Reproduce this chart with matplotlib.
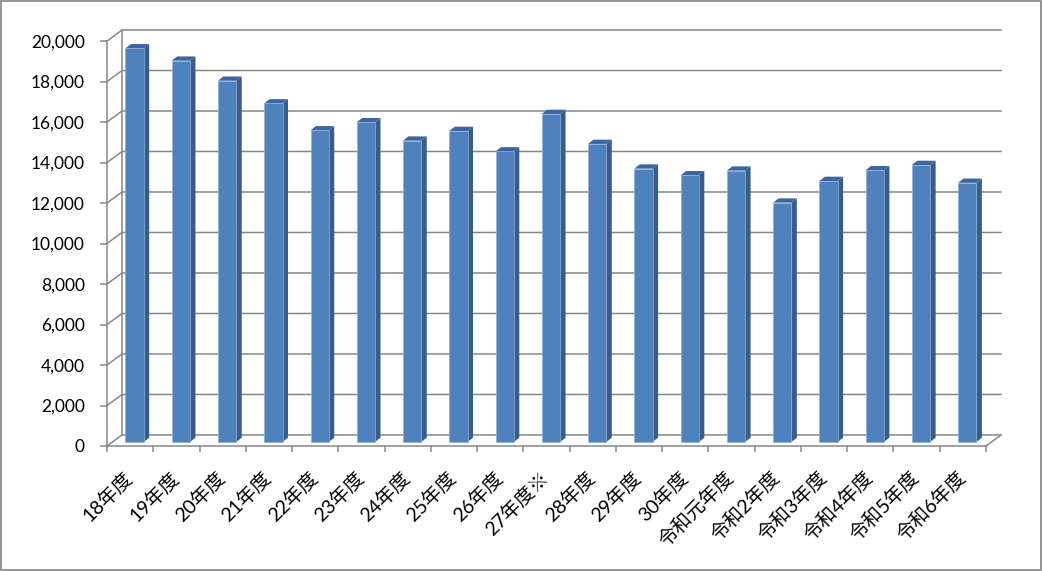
import matplotlib
matplotlib.use('Agg')
import matplotlib.pyplot as plt
from matplotlib.patches import Polygon, Rectangle
import numpy as np

plt.rcParams['font.family'] = ['Lato', 'Noto Sans CJK JP', 'DejaVu Sans']

categories = ['18年度', '19年度', '20年度', '21年度', '22年度', '23年度', '24年度',
              '25年度', '26年度', '27年度※', '28年度', '29年度', '30年度',
              '令和元年度', '令和2年度', '令和3年度', '令和4年度', '令和5年度', '令和6年度']
values = [19440, 18830, 17840, 16720, 15390, 15790, 14880, 15360, 14350, 16200,
          14720, 13500, 13170, 13400, 11820, 12890, 13420, 13680, 12800]
yticks = list(range(0, 20001, 2000))
ytick_labels = [f'{v:,}' for v in yticks]

W, H = 1042, 571
fig = plt.figure(figsize=(W / 100, H / 100), dpi=100)
fig.patch.set_facecolor('white')
fig.add_artist(Rectangle((0.8 / W, 0.8 / H), 1 - 1.6 / W, 1 - 1.6 / H,
                         transform=fig.transFigure, fill=False,
                         edgecolor='#8a8a8a', linewidth=1.3))

left_px, right_px, bottom_px, top_px = 107, 1001, 446, 30
ax = fig.add_axes([left_px / W, 1 - bottom_px / H,
                   (right_px - left_px) / W, (bottom_px - top_px) / H])

n = len(categories)
ymax = 20000
dx, dy = 0.325, 545          # depth of the 3D floor
ax.set_xlim(-0.5, n - 0.5 + dx)
ax.set_ylim(0, ymax + dy)
ax.set_facecolor('none')

grid_c = '#878787'
glw = 1.1
for v in yticks:
    ax.plot([-0.5, -0.5 + dx, n - 0.5 + dx], [v, v + dy, v + dy],
            color=grid_c, lw=glw, clip_on=False, zorder=1)
ax.plot([-0.5 + dx, -0.5 + dx], [dy, ymax + dy], color=grid_c, lw=glw, clip_on=False, zorder=1)
ax.plot([n - 0.5, n - 0.5 + dx], [0, dy], color=grid_c, lw=glw, clip_on=False, zorder=1)

for s in ['top', 'right']:
    ax.spines[s].set_visible(False)
ax.spines['left'].set_bounds(0, ymax)
for s in ['left', 'bottom']:
    ax.spines[s].set_color(grid_c)
    ax.spines[s].set_linewidth(glw)
ax.spines['bottom'].set_bounds(-0.5, n - 0.5)

ax.set_yticks(yticks, ytick_labels)
ax.tick_params(axis='y', length=5, width=glw, color=grid_c, pad=11, labelsize=12.5,
               labelcolor='black')
ax.set_xticks(np.arange(-0.5, n, 1.0))
ax.set_xticklabels([])
ax.tick_params(axis='x', length=4.5, width=glw, color=grid_c)

# 3D bars
front_c = '#4f81bd'
side_c = '#385d8a'
top_c = '#3c66a0'
w = 0.396
ox, oy = 0.097, 198
bdx, bdy = 0.117, 212
for i, v in enumerate(values):
    xl = i + ox - w / 2
    xr = i + ox + w / 2
    ax.add_patch(Polygon([(xr, oy), (xr + bdx, oy + bdy), (xr + bdx, oy + bdy + v), (xr, oy + v)],
                         closed=True, facecolor=side_c, edgecolor='none', zorder=3))
    ax.add_patch(Polygon([(xl, oy + v), (xr, oy + v), (xr + bdx, oy + v + bdy), (xl + bdx, oy + v + bdy)],
                         closed=True, facecolor=top_c, edgecolor='none', zorder=3))
    ax.add_patch(Rectangle((xl, oy), w, v, facecolor=front_c, edgecolor='#8fb0d8',
                           linewidth=0.5, zorder=4))

for i, lab in enumerate(categories):
    ax.annotate(lab, xy=(i, 0), xycoords='data', xytext=(-0.5, -20.5),
                textcoords='offset points', ha='right', va='center',
                rotation=45, rotation_mode='anchor', fontsize=14, color='black',
                annotation_clip=False)

fig.savefig('out.png', dpi=100)
